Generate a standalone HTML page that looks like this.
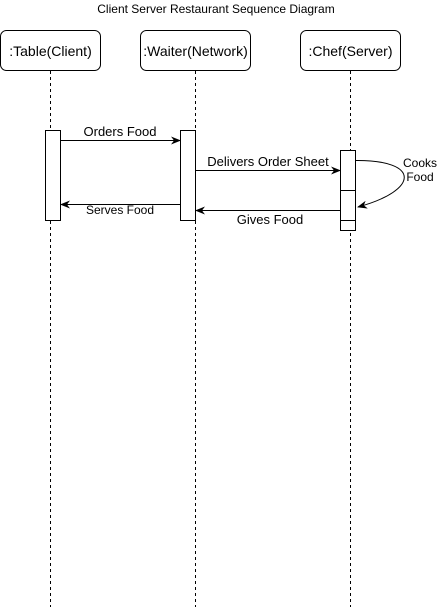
<!DOCTYPE html>
<html><head><style>body{margin:0;background:#fff}svg{display:block}text{font-family:"Liberation Sans",sans-serif;fill:#000}</style></head><body>
<svg width="446" height="611" viewBox="0 0 446 611">
<defs><marker id="a" markerWidth="10" markerHeight="8" refX="9" refY="4" orient="auto" markerUnits="userSpaceOnUse"><path d="M0,0 L10,4 L0,8 L3,4 z" fill="#000"/></marker></defs>
<text x="216" y="13" font-size="12" text-anchor="middle">Client Server Restaurant Sequence Diagram</text>
<g stroke="#000" fill="#fff">
<rect x="0.5" y="30.5" width="100" height="40" rx="6"/>
<rect x="140.5" y="30.5" width="110" height="40" rx="6"/>
<rect x="300.5" y="30.5" width="100" height="40" rx="6"/>
<g stroke-dasharray="3,3"><line x1="50.5" y1="71" x2="50.5" y2="607"/><line x1="195.5" y1="71" x2="195.5" y2="607"/><line x1="350.5" y1="71" x2="350.5" y2="607"/></g>
<rect x="45.5" y="130.5" width="15" height="90"/>
<rect x="180.5" y="130.5" width="15" height="90"/>
<rect x="340.5" y="150.5" width="15" height="80"/>
<line x1="340" y1="190.5" x2="356" y2="190.5"/><line x1="340" y1="220.5" x2="356" y2="220.5"/>
<line x1="61" y1="140.5" x2="180" y2="140.5" marker-end="url(#a)"/>
<line x1="196" y1="170.5" x2="340" y2="170.5" marker-end="url(#a)"/>
<line x1="180" y1="204.5" x2="61" y2="204.5" marker-end="url(#a)"/>
<line x1="340" y1="210.5" x2="196" y2="210.5" marker-end="url(#a)"/>
<path d="M356,160.5 C420,160 420,190 358,207" fill="none" marker-end="url(#a)"/>
</g>
<g font-size="13" text-anchor="middle">
<text x="120" y="136">Orders Food</text>
<text x="268" y="166">Delivers Order Sheet</text>
<text x="120" y="214" font-size="12">Serves Food</text>
<text x="270" y="224">Gives Food</text>
<text x="420" y="167" font-size="12">Cooks</text>
<text x="420" y="181" font-size="12">Food</text>
</g>
<g font-size="14" text-anchor="middle">
<text x="50.5" y="56">:Table(Client)</text>
<text x="195.5" y="56">:Waiter(Network)</text>
<text x="350.5" y="56">:Chef(Server)</text>
</g>
</svg>
</body></html>
